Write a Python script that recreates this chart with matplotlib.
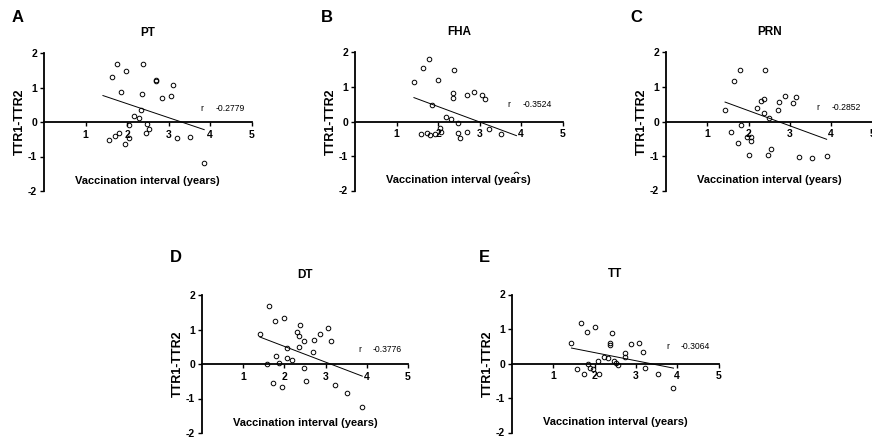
import numpy as np
import matplotlib
import matplotlib.pyplot as plt
matplotlib.use('Agg')

plt.rcParams['font.family'] = ['Liberation Sans', 'DejaVu Sans']
plt.rcParams['axes.unicode_minus'] = False

# values
# (PT and PRN each have one subject above the y range; it is clipped, but it still pulls the fit line)
pt_x = [1.42, 1.77, 2.38, 1.98, 1.63, 2.69, 2.69, 3.12, 1.86, 2.36, 2.85, 3.06, 2.34, 2.18,
        2.29, 2.04, 2.47, 2.53, 2.45, 2.06, 1.80, 1.71, 1.57, 1.94, 3.21, 3.51, 3.86]
pt_y = [2.15, 1.67, 1.67, 1.47, 1.30, 1.23, 1.18, 1.07, 0.87, 0.81, 0.69, 0.75, 0.35, 0.16,
        0.13, -0.10, -0.06, -0.20, -0.31, -0.45, -0.33, -0.40, -0.53, -0.63, -0.46, -0.43, -1.20]

fha_x = [1.79, 1.64, 2.39, 1.42, 1.99, 2.36, 2.35, 2.71, 2.86, 3.06, 3.14, 1.86, 2.20,
         2.31, 2.49, 1.58, 1.73, 1.80, 1.93, 2.07, 2.06, 2.48, 2.53, 2.71, 3.22, 3.52, 3.89]
fha_y = [1.80, 1.54, 1.49, 1.15, 1.20, 0.82, 0.67, 0.76, 0.86, 0.78, 0.65, 0.47, 0.13,
         0.08, -0.03, -0.36, -0.34, -0.38, -0.35, -0.30, -0.19, -0.34, -0.48, -0.30, -0.23, -0.36, -1.53]

prn_x = [1.86, 1.79, 2.40, 1.65, 1.43, 2.31, 2.37, 2.20, 2.73, 2.88, 3.15, 3.07, 2.71, 2.37,
         2.49, 1.81, 1.57, 1.95, 2.07, 2.07, 1.74, 2.55, 2.48, 2.01, 3.23, 3.54, 3.89]
prn_y = [2.90, 1.48, 1.48, 1.16, 0.33, 0.58, 0.64, 0.40, 0.57, 0.73, 0.71, 0.53, 0.34, 0.26,
         0.11, -0.09, -0.29, -0.44, -0.44, -0.56, -0.62, -0.81, -0.98, -0.96, -1.04, -1.06, -1.00]

dt_x = [1.63, 1.78, 1.99, 2.38, 2.30, 2.35, 1.41, 2.48, 2.71, 2.86, 3.06, 3.13, 2.07, 2.35,
        2.70, 1.79, 2.06, 2.19, 1.86, 1.57, 2.47, 1.73, 1.94, 2.53, 3.22, 3.52, 3.89]
dt_y = [1.68, 1.25, 1.33, 1.12, 0.93, 0.80, 0.87, 0.66, 0.71, 0.88, 1.03, 0.66, 0.45, 0.49,
        0.34, 0.23, 0.18, 0.11, 0.03, 0.00, -0.12, -0.55, -0.66, -0.48, -0.61, -0.85, -1.25]

tt_x = [1.66, 2.01, 1.81, 2.41, 1.44, 2.38, 2.38, 2.89, 3.08, 3.16, 2.74, 2.74, 2.22, 2.32,
        2.09, 2.48, 2.52, 2.57, 1.83, 1.58, 1.75, 1.89, 1.97, 2.10, 3.23, 3.54, 3.91]
tt_y = [1.17, 1.07, 0.92, 0.88, 0.60, 0.60, 0.55, 0.56, 0.60, 0.33, 0.29, 0.20, 0.20, 0.16,
        0.07, 0.07, 0.01, -0.03, 0.00, -0.17, -0.30, -0.14, -0.17, -0.31, -0.12, -0.31, -0.72]

panels = [
    ('A', 'PT', pt_x, pt_y, '-0.2779'),
    ('B', 'FHA', fha_x, fha_y, '-0.3524'),
    ('C', 'PRN', prn_x, prn_y, '-0.2852'),
    ('D', 'DT', dt_x, dt_y, '-0.3776'),
    ('E', 'TT', tt_x, tt_y, '-0.3064'),
]

W, H = 872, 441
# axes boxes in pixels: left, top, width, height
boxes = [(44, 53, 207.5, 138), (355, 52.5, 207.5, 138), (666, 52.5, 206.5, 138),
         (202, 295, 206, 138), (512, 294.5, 206.5, 138)]
letter_pos = [(18, 18), (327, 18), (636, 18), (176, 257), (484, 257)]
r_pos = [(3.78, 0.38), (3.67, 0.49), (3.65, 0.40), (3.79, 0.42), (3.73, 0.50)]

fig = plt.figure(figsize=(W / 100, H / 100), dpi=100)

for (letter, name, xs, ys, r), (l, t, w, h), (lx, ly), (rx, ry) in zip(panels, boxes, letter_pos, r_pos):
    ax = fig.add_axes([l / W, (H - t - h) / H, w / W, h / H])
    xs = np.array(xs)
    ys = np.array(ys)
    ax.plot(xs, ys, 'o', ms=3.3, mfc='none', mec='black', mew=0.7, zorder=3)
    k, b = np.polyfit(xs, ys, 1)
    fx = np.array([xs.min(), xs.max()])
    ax.plot(fx, k * fx + b, color='black', lw=0.7, zorder=2)

    ax.set_xlim(0, 5)
    ax.set_ylim(-2, 2)
    ax.spines['top'].set_visible(False)
    ax.spines['right'].set_visible(False)
    ax.spines['bottom'].set_position(('data', 0))
    for s in ('left', 'bottom'):
        ax.spines[s].set_linewidth(1.3)
    ax.set_xticks([1, 2, 3, 4, 5])
    ax.set_yticks([-2, -1, 0, 1, 2])
    ax.tick_params(axis='both', direction='out', length=3, width=1.0, labelsize=7.5, pad=2)
    ax.tick_params(axis='x', pad=2.5)
    for lab in ax.get_xticklabels() + ax.get_yticklabels():
        lab.set_fontweight('bold')

    ax.set_title(name, fontsize=8.5, fontweight='bold', pad=12.5)
    ax.set_ylabel('TTR1-TTR2', fontsize=9, fontweight='bold')
    ax.yaxis.set_label_coords(-0.088, 0.5)
    ax.text(2.5, -1.7, 'Vaccination interval (years)', fontsize=8, fontweight='bold',
            ha='center', va='center', zorder=5,
            bbox=dict(facecolor='white', edgecolor='none', pad=0.5))
    ax.text(rx, ry, 'r', fontsize=6.2, ha='left', va='center')
    ax.text(rx + 0.36, ry, r, fontsize=6.2, ha='left', va='center')

    fig.text(lx / W, 1 - ly / H, letter, fontsize=12, fontweight='bold', ha='center', va='center')

fig.savefig('out.png', dpi=100)
